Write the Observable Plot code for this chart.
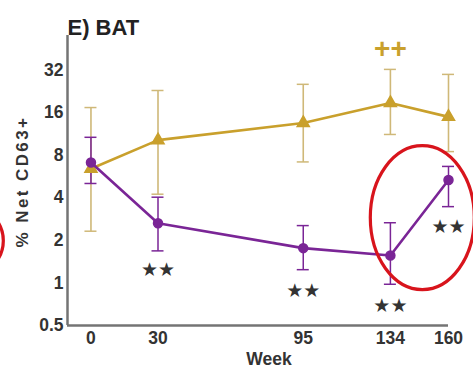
<!DOCTYPE html>
<html>
<head>
<meta charset="utf-8">
<script src="https://cdn.jsdelivr.net/npm/d3@7"></script>
<script src="https://cdn.jsdelivr.net/npm/@observablehq/plot@0.6"></script>
<style>
  html, body { margin: 0; padding: 0; background: #fff; }
  #chart svg { display: block; }
</style>
</head>
<body>
<div id="chart"></div>
<script>
const weeks = [0, 30, 95, 134, 160];
const goldMean = [6.4, 10.2, 13.5, 18.7, 14.9];
const goldLow = [2.3, 4.2, 7.1, 11.1, 8.4];
const goldHigh = [17.2, 22.7, 25.1, 32, 29.5];
const purpleMean = [7.1, 2.64, 1.76, 1.56, 5.33];
const purpleLow = [5.0, 1.67, 1.23, 0.97, 3.43];
const purpleHigh = [10.6, 4.0, 2.52, 2.64, 6.6];
const yTicks = [0.5, 1, 2, 4, 8, 16, 32];
const starWeeks = [30, 95, 134, 160];
const starValues = [1.23, 0.88, 0.69, 2.47];
const plusWeek = [134];
const plusValue = [45];
const circleNotes = [
  {week: 148.5, value: 2.87, rx: 52, ry: 72},
  {week: -56, value: 1.97, rx: 38, ry: 36}
];

const gold = weeks.map((w, i) => ({week: w, mean: goldMean[i], lo: goldLow[i], hi: goldHigh[i]}));
const purple = weeks.map((w, i) => ({week: w, mean: purpleMean[i], lo: purpleLow[i], hi: purpleHigh[i]}));
const stars = starWeeks.map((w, i) => ({week: w, value: starValues[i]}));
const pluses = plusWeek.map((w, i) => ({week: w, value: plusValue[i]}));

const GOLD = "#c9a02c";
const GOLD_ERR = "#cfb878";
const PURPLE = "#7a2596";
const AXIS = "#747474";
const FONT = "Liberation Sans, Arial, sans-serif";

const ellipseMark = (index, scales) => {
  const g = d3.create("svg:g");
  for (const c of circleNotes) {
    g.append("ellipse")
      .attr("cx", scales.x(c.week))
      .attr("cy", scales.y(c.value))
      .attr("rx", c.rx).attr("ry", c.ry)
      .attr("fill", "none").attr("stroke", "#d8141c").attr("stroke-width", 3.2);
  }
  return g.node();
};

const capsMark = (data, color) => (index, scales) => {
  const g = d3.create("svg:g").attr("stroke", color).attr("stroke-width", 1.5);
  for (const d of data) {
    const x = scales.x(d.week);
    for (const v of [d.lo, d.hi]) {
      const y = scales.y(v);
      g.append("line").attr("x1", x - 6).attr("x2", x + 6).attr("y1", y).attr("y2", y);
    }
  }
  return g.node();
};

const chart = Plot.plot({
  width: 473,
  height: 368,
  marginLeft: 67,
  marginRight: 25,
  marginTop: 35,
  marginBottom: 43,
  style: {fontFamily: FONT, background: "#fff", overflow: "visible"},
  x: {domain: [-10.5, 160], ticks: weeks, tickFormat: d => d, label: null, tickSize: 0},
  y: {type: "log", base: 2, domain: [0.5, 56], ticks: yTicks, tickFormat: d => d, label: null, tickSize: 0},
  marks: [
    Plot.axisX({ticks: weeks, tickFormat: d => d, tickSize: 0, tickPadding: 6, fontSize: 17.5, fontWeight: "bold", fill: "#333", label: null}),
    Plot.axisY({ticks: yTicks, tickFormat: d => d, tickSize: 0, tickPadding: 4, fontSize: 17.5, fontWeight: "bold", fill: "#333", label: null}),
    Plot.ruleX([-10.5], {stroke: AXIS, strokeWidth: 2.5}),
    Plot.ruleY([0.5], {stroke: AXIS, strokeWidth: 2.5}),
    Plot.ruleX(gold, {x: "week", y1: "lo", y2: "hi", stroke: GOLD_ERR, strokeWidth: 1.6}),
    capsMark(gold, GOLD_ERR),
    Plot.ruleX(purple, {x: "week", y1: "lo", y2: "hi", stroke: PURPLE, strokeWidth: 1.5}),
    capsMark(purple, PURPLE),
    Plot.line(gold, {x: "week", y: "mean", stroke: GOLD, strokeWidth: 2.6}),
    Plot.dot(gold, {x: "week", y: "mean", symbol: "triangle", r: 4.5, fill: GOLD, stroke: GOLD}),
    Plot.line(purple, {x: "week", y: "mean", stroke: PURPLE, strokeWidth: 2.6}),
    Plot.dot(purple, {x: "week", y: "mean", r: 4.5, fill: PURPLE, stroke: PURPLE}),
    Plot.text(stars, {x: "week", y: "value", text: () => "★★", fontSize: 19, fill: "#333", fontFamily: "DejaVu Sans"}),
    Plot.text(pluses, {x: "week", y: "value", text: () => "++", fontSize: 28, fontWeight: "bold", fill: GOLD}),
    ellipseMark,
    Plot.text(["E) BAT"], {frameAnchor: "top-left", dy: -16, dx: 0, text: d => d, fontSize: 22, fontWeight: "bold", fill: "#222", textAnchor: "start"}),
    Plot.text(["% Net CD63+"], {className: "ylab", frameAnchor: "left", textAnchor: "middle", dx: -45, dy: 1, rotate: -90, text: d => d, fontSize: 17, fontWeight: "bold", fill: "#333"}),
    Plot.text(["Week"], {frameAnchor: "bottom", dx: 11, dy: 39, text: d => d, fontSize: 17.5, fontWeight: "bold", fill: "#333"})
  ]
});
d3.select(chart).selectAll(".ylab text").attr("letter-spacing", 2.4);
document.getElementById("chart").appendChild(chart);
</script>
</body>
</html>
